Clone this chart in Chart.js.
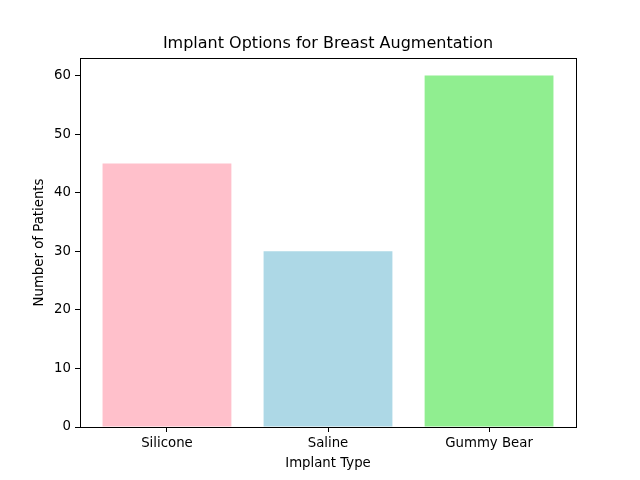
<!DOCTYPE html>
<html>
<head>
<meta charset="utf-8">
<script src="https://cdn.jsdelivr.net/npm/chart.js@4/dist/chart.umd.min.js"></script>
<style>
  body { margin: 0; background: #fff; }
  #wrap { width: 640px; height: 480px; }
</style>
</head>
<body>
<div id="wrap"><canvas id="chart" width="640" height="480"></canvas></div>
<script>
// Datos
const implantTypes = ['Silicone', 'Saline', 'Gummy Bear'];
const patientCounts = [45, 30, 60];
const barColors = ['#ffc0cb', '#add8e6', '#90ee90'];
const yTicks = [0, 10, 20, 30, 40, 50, 60];

Chart.defaults.font.family = 'DejaVu Sans';
Chart.defaults.color = '#000';

// Marco completo alrededor del área de dibujo (estilo matplotlib)
const framePlugin = {
  id: 'frame',
  afterDraw(chart) {
    const a = chart.chartArea;
    const ctx = chart.ctx;
    ctx.save();
    ctx.strokeStyle = '#000';
    ctx.lineWidth = 1;
    ctx.strokeRect(Math.round(a.left) + 0.5, Math.round(a.top) + 0.5,
      Math.round(a.right - a.left), Math.round(a.bottom - a.top));
    ctx.restore();
  }
};

const points = patientCounts.map((v, i) => ({ x: i, y: v }));

new Chart(document.getElementById('chart'), {
  type: 'bar',
  data: {
    datasets: [{
      data: points,
      backgroundColor: barColors,
      borderWidth: 0,
      barPercentage: 0.8,
      categoryPercentage: 1.0,
    }],
  },
  plugins: [framePlugin],
  options: {
    responsive: false,
    animation: false,
    devicePixelRatio: 1,
    layout: { padding: { left: 0, right: 64, top: 0, bottom: 0 } },
    plugins: {
      legend: { display: false },
      tooltip: { enabled: false },
      title: {
        display: true,
        fullSize: false,
        text: 'Implant Options for Breast Augmentation',
        font: { size: 16, weight: 'normal' },
        padding: { top: 34, bottom: 4.8 },
      },
    },
    scales: {
      x: {
        type: 'linear',
        min: -0.54,
        max: 2.54,
        offset: false,
        afterFit(scale) { scale.height = 53; },
        afterBuildTicks(scale) {
          scale.ticks = implantTypes.map((_, i) => ({ value: i }));
        },
        ticks: {
          font: { size: 13.3 },
          padding: 4,
          maxRotation: 0,
          callback: v => implantTypes[v],
        },
        grid: { display: true, offset: false, drawOnChartArea: false, tickLength: 5, color: '#000' },
        border: { display: true, color: '#000' },
        title: {
          display: true,
          text: 'Implant Type',
          font: { size: 13.3 },
          padding: { top: 4, bottom: 8 },
        },
      },
      y: {
        min: 0,
        max: 63,
        afterFit(scale) { scale.width = 80; },
        afterBuildTicks(scale) {
          scale.ticks = yTicks.map(v => ({ value: v }));
        },
        ticks: { font: { size: 13.3 }, padding: 4 },
        grid: { display: true, drawOnChartArea: false, tickLength: 5, color: '#000' },
        border: { display: true, color: '#000' },
        title: {
          display: true,
          text: 'Number of Patients',
          font: { size: 13.3 },
          padding: { top: 32, bottom: 4 },
        },
      },
    },
  },
});
</script>
</body>
</html>
